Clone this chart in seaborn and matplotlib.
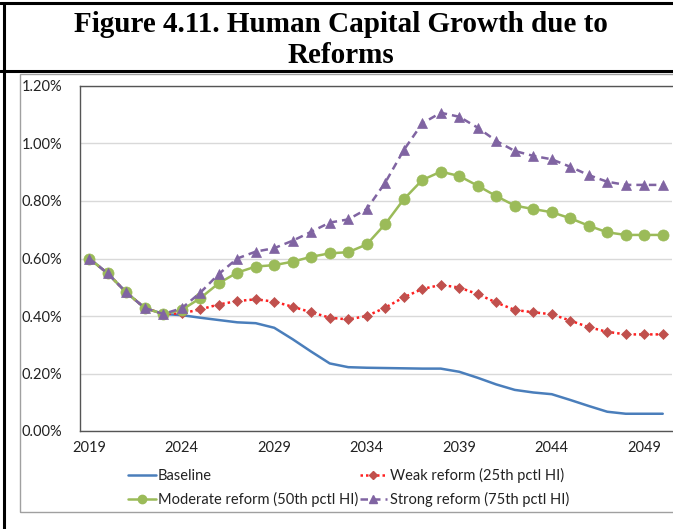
import numpy as np
import pandas as pd
import matplotlib.pyplot as plt
import seaborn as sns
from matplotlib.lines import Line2D
from matplotlib.patches import Rectangle
from matplotlib.ticker import FuncFormatter, MultipleLocator

# ── data (values in %) ───────────────────────────────────────
years = list(range(2019, 2051))

baseline = [0.600, 0.548, 0.482, 0.428, 0.407, 0.403, 0.394, 0.386, 0.378, 0.375,
            0.359, 0.319, 0.276, 0.235, 0.222, 0.220, 0.219, 0.218, 0.217, 0.217,
            0.206, 0.185, 0.162, 0.143, 0.134, 0.128, 0.108, 0.087, 0.067, 0.060,
            0.060, 0.060]
weak = [0.600, 0.548, 0.482, 0.428, 0.407, 0.409, 0.423, 0.440, 0.452, 0.458,
        0.450, 0.432, 0.413, 0.394, 0.388, 0.400, 0.429, 0.465, 0.494, 0.508,
        0.499, 0.476, 0.447, 0.421, 0.413, 0.406, 0.384, 0.361, 0.345, 0.336,
        0.336, 0.336]
moderate = [0.600, 0.548, 0.482, 0.428, 0.407, 0.421, 0.462, 0.514, 0.551, 0.572,
            0.577, 0.589, 0.606, 0.618, 0.622, 0.649, 0.720, 0.806, 0.873, 0.902,
            0.887, 0.853, 0.817, 0.784, 0.772, 0.761, 0.740, 0.714, 0.691, 0.682,
            0.682, 0.682]
strong = [0.600, 0.548, 0.482, 0.428, 0.407, 0.427, 0.481, 0.546, 0.600, 0.624,
          0.636, 0.662, 0.693, 0.725, 0.736, 0.772, 0.864, 0.977, 1.070, 1.107,
          1.093, 1.055, 1.009, 0.974, 0.957, 0.945, 0.919, 0.890, 0.867, 0.856,
          0.856, 0.856]

names = ['Baseline', 'Weak reform (25th pctl HI)',
         'Moderate reform (50th pctl HI)', 'Strong reform (75th pctl HI)']
tick_years = [2019, 2024, 2029, 2034, 2039, 2044, 2049]

df = pd.DataFrame({'Year': years * 4,
                   'Value': baseline + weak + moderate + strong,
                   'Series': np.repeat(names, len(years))})

# ── styles ───────────────────────────────────────────────────
styles = {
    names[0]: dict(color='#4a7ebb', marker=None, ls='-', ms=0, mfc='#4a7ebb'),
    names[1]: dict(color='#ff2020', marker='D', ls=(0, (1, 1.2)), ms=5.5, mfc='#c0504d'),
    names[2]: dict(color='#9bbb59', marker='o', ls='-', ms=8, mfc='#9bbb59'),
    names[3]: dict(color='#8064a2', marker='^', ls=(0, (3, 2)), ms=7.5, mfc='#8064a2'),
}

sns.set_style('white')
plt.rcParams['font.family'] = ['Lato', 'DejaVu Sans']

fig = plt.figure(figsize=(6.73, 5.29), dpi=100)
ax = fig.add_axes([80/673, 1 - 431/529, 592/673, 345/529])

handles = {}
for name in names:
    st = styles[name]
    sub = df[df['Series'] == name]
    sns.lineplot(data=sub, x='Year', y='Value', ax=ax, color=st['color'],
                 linestyle=st['ls'], linewidth=1.8, marker=st['marker'],
                 markersize=st['ms'], markerfacecolor=st['mfc'],
                 markeredgecolor=st['mfc'], markeredgewidth=0.5, legend=False)
    handles[name] = Line2D([], [], color=st['color'], linestyle=st['ls'],
                           linewidth=1.8, marker=st['marker'],
                           markersize=st['ms'] * 0.75, markerfacecolor=st['mfc'],
                           markeredgecolor=st['mfc'])

# ── axes ─────────────────────────────────────────────────────
ax.set_xlim(2018.5, 2050.5)
ax.set_ylim(0, 1.2)
ax.set_xlabel(''); ax.set_ylabel('')
ax.set_xticks(tick_years)
ax.xaxis.set_minor_locator(MultipleLocator(0.5))
ax.yaxis.set_major_locator(MultipleLocator(0.2))
ax.yaxis.set_major_formatter(FuncFormatter(lambda v, p: f'{v:.2f}%'))
ax.tick_params(axis='x', which='both', direction='in', length=3.5, width=0.8,
               color='#404040', labelsize=10.5, labelcolor='#222222', pad=7)
ax.tick_params(axis='y', length=0, labelsize=10.5, labelcolor='#222222', pad=13)
ax.grid(axis='y', color='#d9d9d9', linewidth=1)
ax.set_axisbelow(True)
for s in ['left', 'bottom', 'top']:
    ax.spines[s].set_color('#555555')
    ax.spines[s].set_linewidth(1)
ax.spines['right'].set_visible(False)

order = [names[0], names[2], names[1], names[3]]
fig.legend([handles[n] for n in order], order, ncol=2, frameon=False,
           loc='upper left', bbox_to_anchor=(128/673, 1 - 468/529),
           fontsize=10.5, handlelength=1.9, handletextpad=0.15,
           columnspacing=0.1, labelspacing=0.6, borderpad=0,
           borderaxespad=0, labelcolor='#222222')

# ── title and frame ──────────────────────────────────────────
fig.text(341/673, 1 - 40/529,
         'Figure 4.11. Human Capital Growth due to\nReforms',
         ha='center', va='center', fontsize=21, fontweight='bold',
         family='Liberation Serif', linespacing=1.22, color='black')

fig.add_artist(Line2D([0, 1], [1 - 3/529, 1 - 3/529], color='black', lw=2.2))
fig.add_artist(Line2D([0, 1], [1 - 71/529, 1 - 71/529], color='black', lw=2.2))
fig.add_artist(Line2D([4/673, 4/673], [0, 1 - 3/529], color='black', lw=2.2))
fig.add_artist(Rectangle((20/673, 1 - 512/529), 0.99, (512 - 74)/529,
                         fill=False, edgecolor='#a0a0a0', lw=1))

plt.savefig('out.png', dpi=100)
plt.close()
